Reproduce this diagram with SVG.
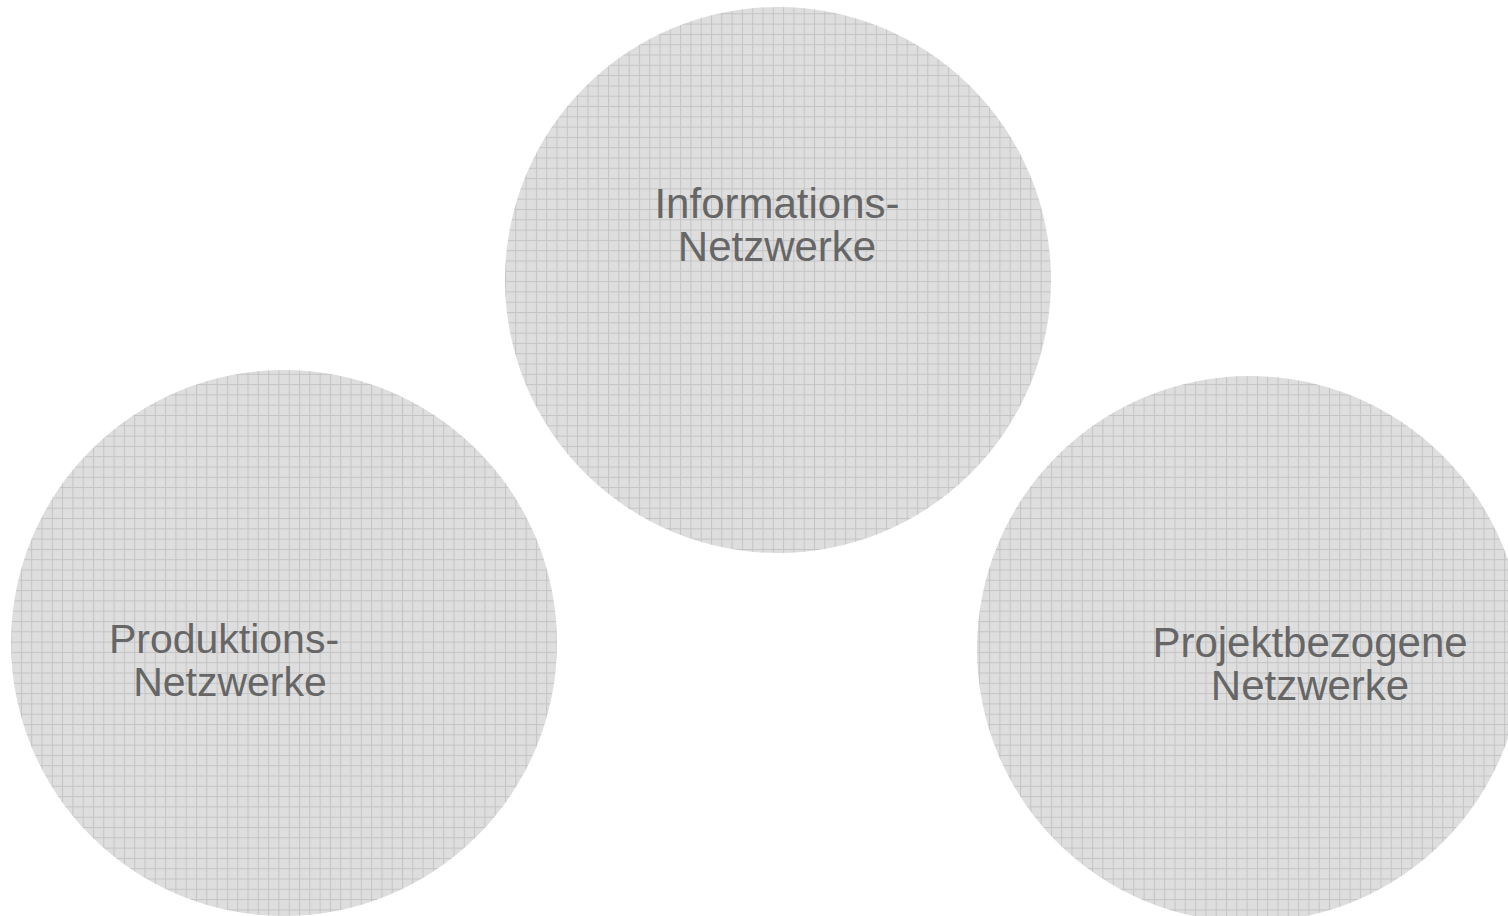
<svg xmlns="http://www.w3.org/2000/svg" width="1508" height="916" viewBox="0 0 1508 916">
  <defs>
    <pattern id="grid" x="0.3" y="3" width="10.3" height="10.3" patternUnits="userSpaceOnUse">
      <rect width="10.3" height="10.3" fill="#dedede"/>
      <rect x="0" y="0" width="1" height="10.3" fill="#c4c4c4"/>
      <rect x="0" y="0" width="10.3" height="1" fill="#c4c4c4"/>
    </pattern>
  </defs>
  <style>
    .node { fill: url(#grid); stroke: none; }
    .lbl { font-family: "Liberation Sans", Arial, sans-serif; fill: #666666; text-anchor: middle; }
  </style>
  <rect width="1508" height="916" fill="#ffffff"/>
  <g id="connectors"></g>
  <g id="node-informations">
    <circle class="node" cx="778" cy="280" r="273"/>
    <text class="lbl" font-size="42" x="777" y="218">Informations-</text>
    <text class="lbl" font-size="42" x="777" y="261">Netzwerke</text>
  </g>
  <g id="node-produktions">
    <circle class="node" cx="284" cy="643" r="273"/>
    <text class="lbl" font-size="41" x="224" y="653">Produktions-</text>
    <text class="lbl" font-size="41" x="230" y="696">Netzwerke</text>
  </g>
  <g id="node-projekt">
    <circle class="node" cx="1250" cy="649" r="273"/>
    <text class="lbl" font-size="42" x="1310" y="657">Projektbezogene</text>
    <text class="lbl" font-size="42" x="1310" y="700">Netzwerke</text>
  </g>
</svg>
